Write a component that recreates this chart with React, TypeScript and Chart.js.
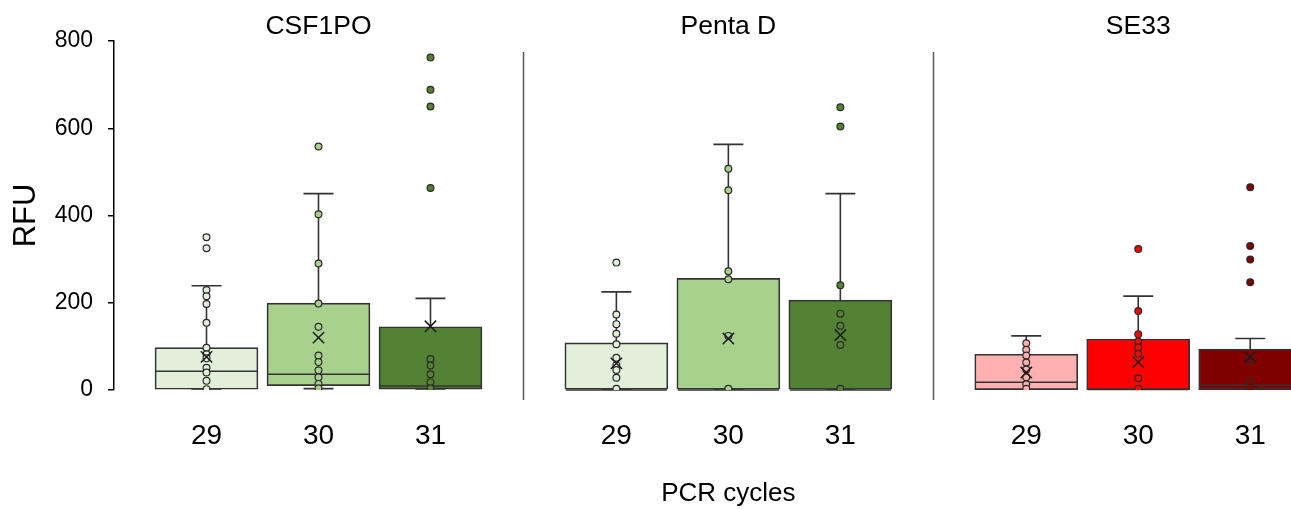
import React, { useEffect, useRef } from 'react';
import { Chart, registerables } from 'chart.js';

Chart.register(...registerables);

// ---- data ----
const markers = ['CSF1PO', 'Penta D', 'SE33'];
const cycles = ['29', '30', '31'];
const yTicks = [0, 200, 400, 600, 800];

// per box, in order CSF1PO 29/30/31, Penta D 29/30/31, SE33 29/30/31
const quartile1 = [0, 10, 2, 0, 0, 0, 1, 1, 1];
const medians = [43, 36, 9, 0, 0, 0, 18, 1, 11];
const quartile3 = [97, 199, 145, 108, 256, 206, 82, 117, 94];
const whiskerMin = [0, 3, 0, 0, 0, 0, 0, 0, 0];
const whiskerMax = [239, 450, 210, 225, 563, 450, 124, 215, 118];
const means = [76, 120, 146, 61, 118, 126, 40, 64, 76];

const obsCSF1PO29 = [350, 325, 229, 215, 197, 154, 97, 82, 73, 51, 40, 21, 2];
const obsCSF1PO30 = [558, 403, 290, 198, 145, 79, 64, 45, 29, 14, 4];
const obsCSF1PO31 = [762, 688, 650, 463, 71, 56, 36, 18, 4];
const obsPentaD29 = [292, 173, 151, 129, 105, 74, 57, 46, 28, 3];
const obsPentaD30 = [507, 458, 272, 254, 124, 3];
const obsPentaD31 = [648, 604, 240, 175, 147, 103, 3];
const obsSE3329 = [107, 92, 79, 63, 47, 29, 13, 3];
const obsSE3330 = [323, 181, 128, 111, 98, 83, 27, 3];
const obsSE3331 = [465, 330, 299, 247, 69, 18, 6];
const observations = [
  obsCSF1PO29, obsCSF1PO30, obsCSF1PO31,
  obsPentaD29, obsPentaD30, obsPentaD31,
  obsSE3329, obsSE3330, obsSE3331,
];

// ---- styling ----
const fillColors = ['#e2efda', '#a9d18e', '#548235', '#e2efda', '#a9d18e', '#548235', '#ffb1b1', '#ff0000', '#800000'];
const FONT = "'Liberation Sans', Arial, Helvetica, sans-serif";
const LINE = '#333333';
const PANEL_STEP = 3.66;

const xOf = (i: number) => Math.floor(i / 3) * PANEL_STEP + (i % 3);

export default function App() {
  const ref = useRef<HTMLCanvasElement | null>(null);

  useEffect(() => {
    if (!ref.current) return;
    const n = quartile1.length;
    const positions = Array.from({ length: n }, (_, i) => xOf(i));

    const boxData = positions.map((x, i) => ({ x, y: [quartile1[i], quartile3[i]] }));
    const whiskerData: any[] = [];
    positions.forEach((x, i) => {
      whiskerData.push({ x, y: quartile3[i] }, { x, y: whiskerMax[i] }, { x, y: null });
      whiskerData.push({ x, y: quartile1[i] }, { x, y: whiskerMin[i] }, { x, y: null });
    });
    const capData: any[] = [];
    positions.forEach((x, i) => {
      capData.push({ x, y: whiskerMax[i] }, { x, y: whiskerMin[i] });
    });
    const meanData = positions.map((x, i) => ({ x, y: means[i] }));
    const pointData: any[] = [];
    const pointColors: string[] = [];
    observations.forEach((arr, i) => {
      arr.forEach((v) => {
        pointData.push({ x: positions[i], y: v });
        pointColors.push(fillColors[i]);
      });
    });

    // median lines drawn right after the boxes, spanning each bar element's width
    const medianPlugin = {
      id: 'medians',
      afterDatasetDraw(chart: any, args: any) {
        if (args.index !== 0) return;
        const { ctx } = chart;
        const ys = chart.scales.y;
        const meta = chart.getDatasetMeta(0);
        ctx.save();
        ctx.strokeStyle = LINE;
        ctx.lineWidth = 1.5;
        meta.data.forEach((bar: any, i: number) => {
          const { x, width } = bar.getProps(['x', 'width'], true);
          const py = ys.getPixelForValue(medians[i]);
          ctx.beginPath();
          ctx.moveTo(x - width / 2 + 1, py);
          ctx.lineTo(x + width / 2 - 1, py);
          ctx.stroke();
        });
        ctx.restore();
      },
    };

    const decorPlugin = {
      id: 'decor',
      afterDraw(chart: any) {
        const { ctx } = chart;
        const xs = chart.scales.x;
        const ys = chart.scales.y;
        ctx.save();
        // separators between panels
        ctx.strokeStyle = '#5a5a5a';
        ctx.lineWidth = 1.5;
        for (let p = 0; p < markers.length - 1; p++) {
          const xv = (p * PANEL_STEP + 2 + (p + 1) * PANEL_STEP) / 2;
          const px = Math.round(xs.getPixelForValue(xv)) + 0.5;
          ctx.beginPath();
          ctx.moveTo(px, ys.getPixelForValue(775));
          ctx.lineTo(px, ys.getPixelForValue(-23));
          ctx.stroke();
        }
        // panel titles
        ctx.fillStyle = '#000';
        ctx.textAlign = 'center';
        ctx.textBaseline = 'middle';
        ctx.font = `26.5px ${FONT}`;
        markers.forEach((m, p) => {
          ctx.fillText(m, xs.getPixelForValue(p * PANEL_STEP + 1), 27);
        });
        // x axis title
        ctx.font = `26px ${FONT}`;
        ctx.fillText('PCR cycles', xs.getPixelForValue(PANEL_STEP + 1), 494);
        ctx.restore();
      },
    };

    const chart = new Chart(ref.current, {
      type: 'bar',
      data: {
        datasets: [
          {
            type: 'bar',
            data: boxData as any,
            backgroundColor: fillColors,
            borderColor: LINE,
            borderWidth: 1.7,
            borderSkipped: false,
            barThickness: 103,
            clip: false,
            order: 10,
          } as any,
          {
            type: 'line',
            data: whiskerData,
            borderColor: LINE,
            borderWidth: 1.6,
            pointRadius: 0,
            pointHoverRadius: 0,
            spanGaps: false,
            fill: false,
            order: 8,
          } as any,
          {
            type: 'scatter',
            data: capData,
            pointStyle: 'line',
            pointRadius: 15,
            pointHoverRadius: 15,
            borderColor: LINE,
            borderWidth: 1.7,
            order: 7,
          } as any,
          {
            type: 'scatter',
            data: pointData,
            pointStyle: 'circle',
            pointRadius: 3.4,
            backgroundColor: pointColors,
            borderColor: '#2a2a2a',
            borderWidth: 1.2,
            order: 2,
          } as any,
          {
            type: 'scatter',
            data: meanData,
            pointStyle: 'crossRot',
            pointRadius: 8,
            pointHoverRadius: 8,
            borderColor: '#1a1a1a',
            borderWidth: 1.5,
            order: 1,
          } as any,
        ],
      },
      options: {
        responsive: false,
        animation: false,
        events: [],
        layout: { padding: { top: 41, left: 0, right: 0, bottom: 0 } },
        plugins: {
          legend: { display: false },
          tooltip: { enabled: false },
          title: { display: false },
        },
        scales: {
          x: {
            type: 'linear',
            min: -0.826,
            max: 9.535,
            offset: false,
            grid: { display: false },
            border: { display: false },
            afterBuildTicks: (scale: any) => {
              scale.ticks = positions.map((v) => ({ value: v }));
            },
            afterFit: (scale: any) => {
              scale.height = 119;
            },
            ticks: {
              autoSkip: false,
              maxRotation: 0,
              padding: 21,
              color: '#000',
              font: { family: FONT, size: 28 },
              callback: (_v: any, idx: number) => cycles[idx % cycles.length],
            },
          },
          y: {
            type: 'linear',
            min: yTicks[0],
            max: yTicks[yTicks.length - 1],
            afterBuildTicks: (scale: any) => {
              scale.ticks = yTicks.map((v) => ({ value: v }));
            },
            afterFit: (scale: any) => {
              scale.width = 114;
            },
            grid: {
              drawOnChartArea: false,
              drawTicks: true,
              tickLength: 6,
              color: '#000',
              lineWidth: 1.5,
            },
            border: { display: true, color: '#000', width: 1.5 },
            ticks: {
              padding: 15,
              color: '#000',
              font: { family: FONT, size: 23 },
            },
            title: {
              display: true,
              text: 'RFU',
              color: '#000',
              font: { family: FONT, size: 31 },
              padding: { top: 8, bottom: 0 },
            },
          },
        },
      } as any,
      plugins: [medianPlugin, decorPlugin],
    });

    return () => chart.destroy();
  }, []);

  return (
    <div style={{ position: 'absolute', left: 0, top: 0, width: 1291, height: 509, background: '#fff' }}>
      <canvas ref={ref} width={1291} height={509} />
    </div>
  );
}
